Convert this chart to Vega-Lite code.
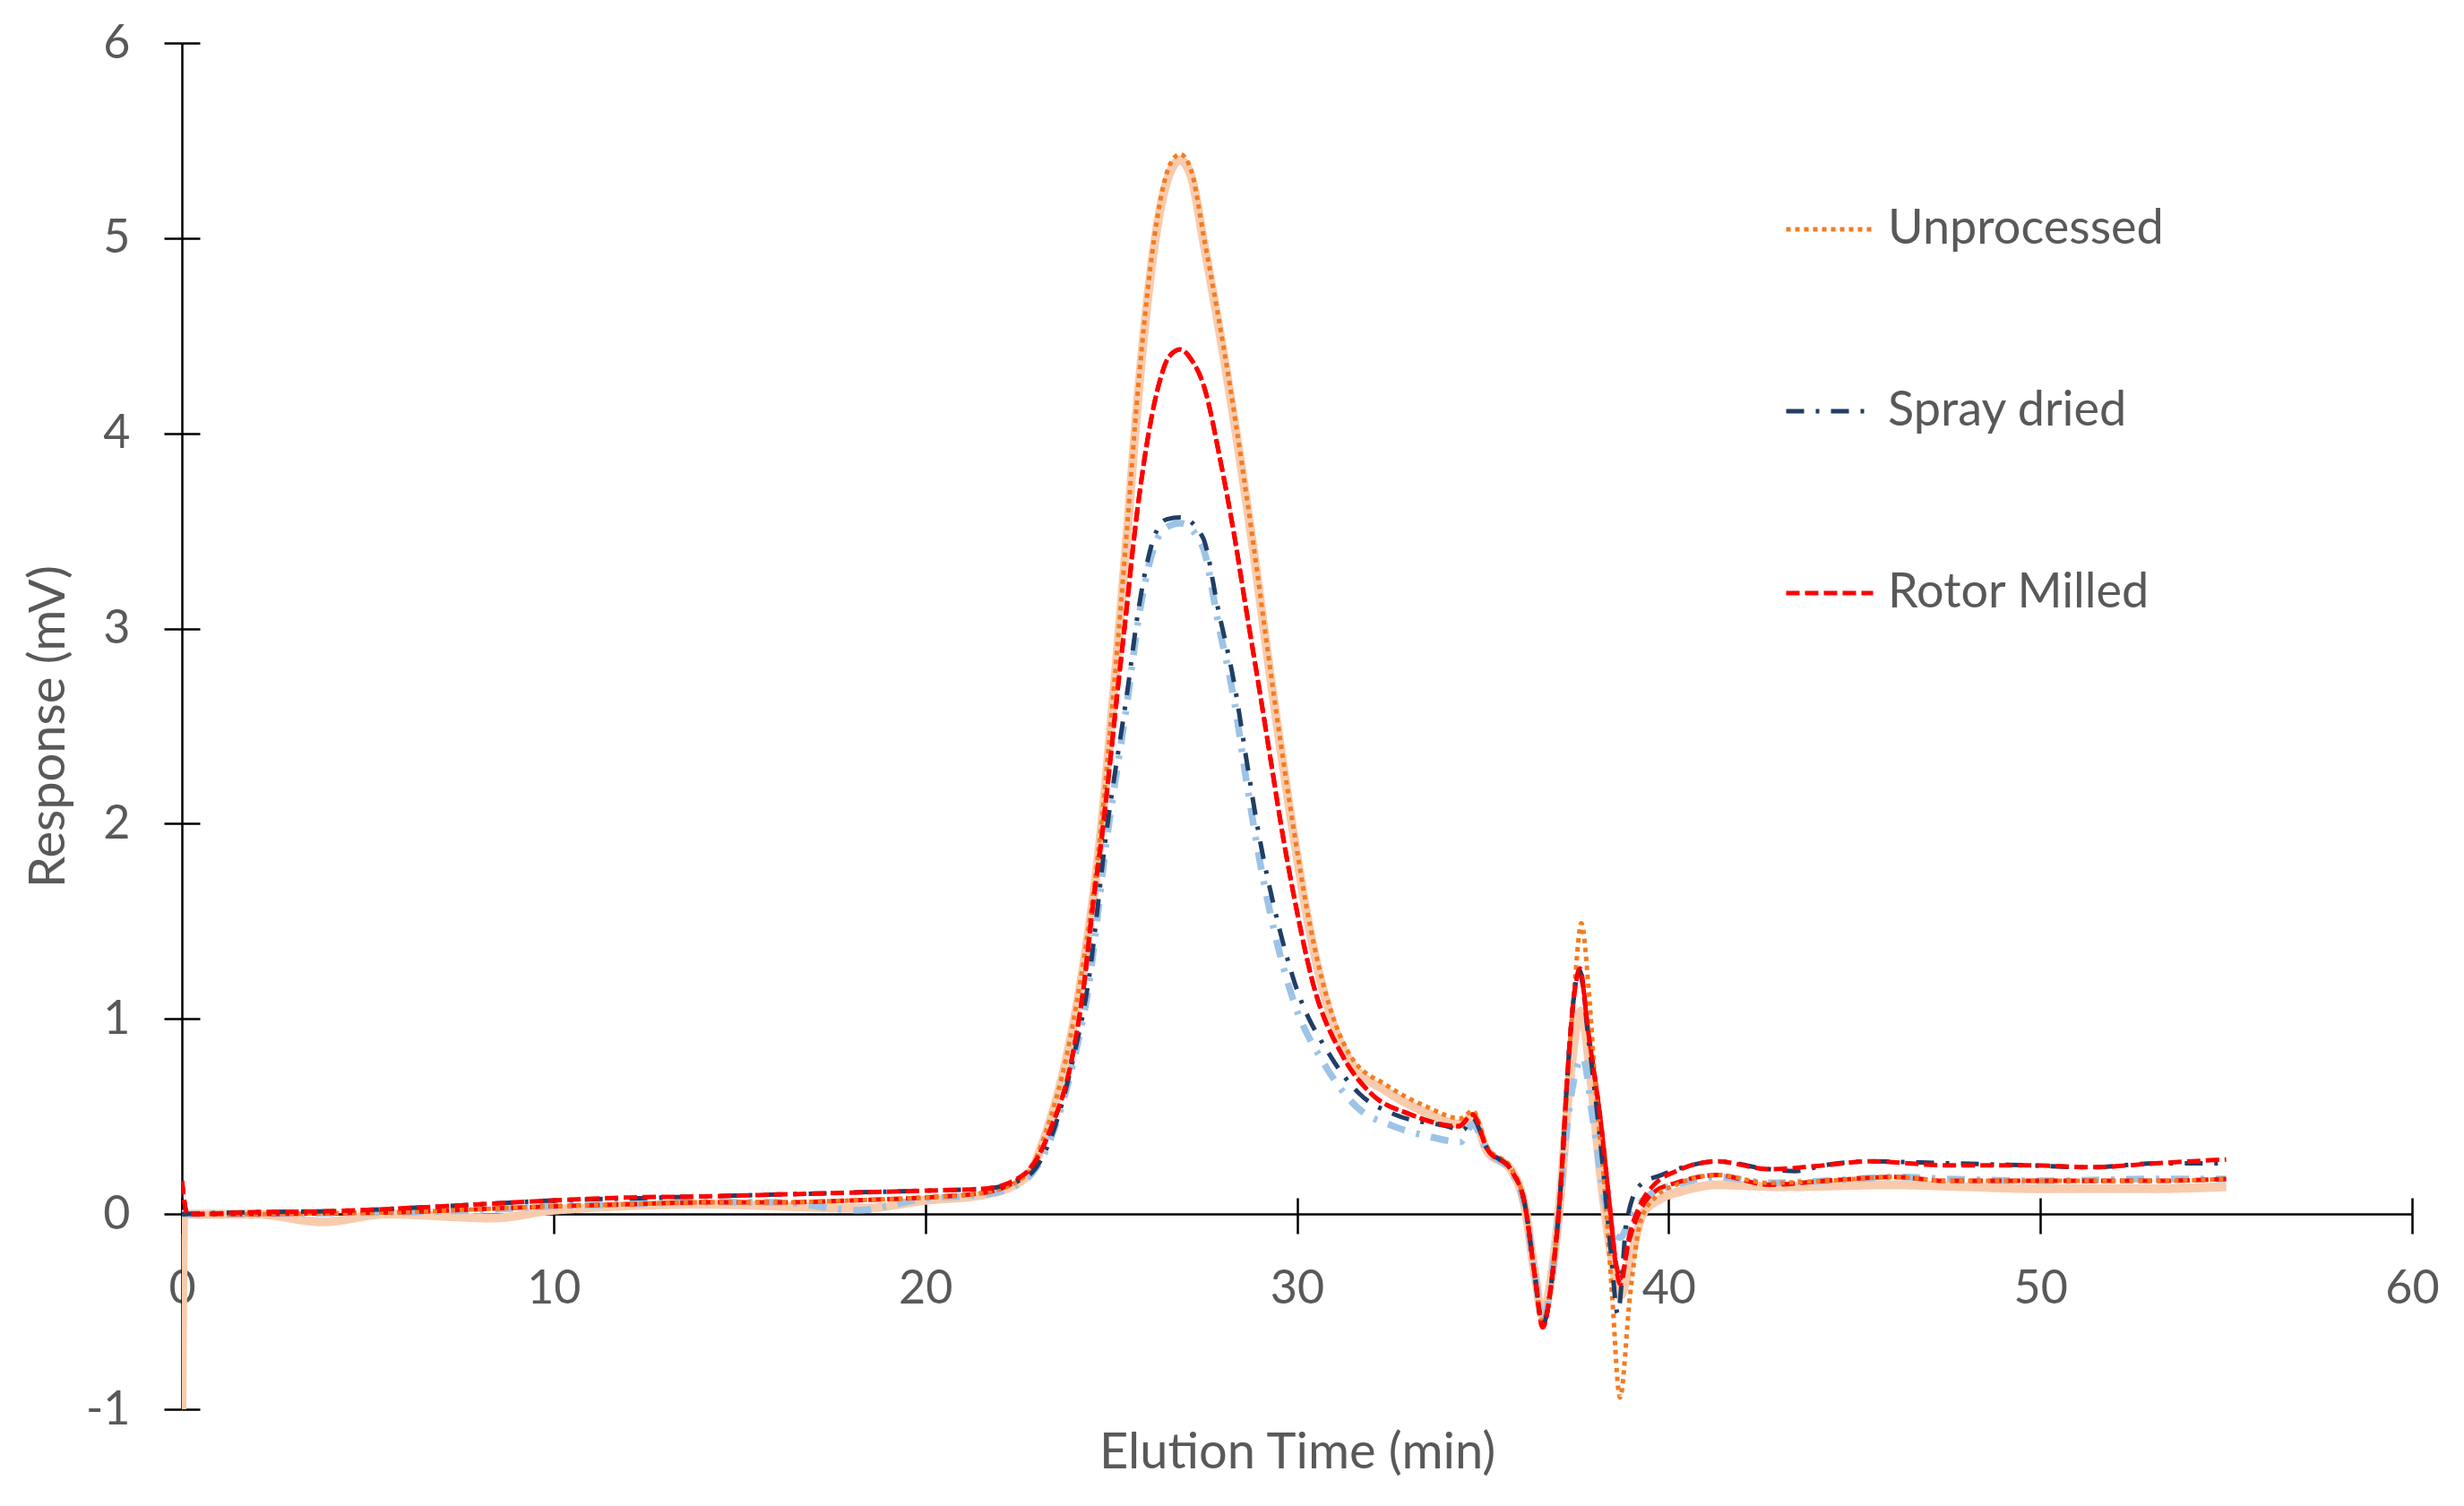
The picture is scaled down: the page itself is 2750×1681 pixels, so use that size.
{
  "$schema": "https://vega.github.io/schema/vega-lite/v6.json",
  "description": "Chromatogram: response vs elution time for three sample treatments",
  "autosize": {"type": "none"},
  "padding": {"left": 203, "top": 48, "right": 58, "bottom": 108},
  "width": 2489,
  "height": 1525,
  "background": "white",
  "config": {
    "view": {"stroke": null},
    "font": "Lato",
    "axis": {
      "grid": false,
      "domainColor": "black",
      "domainWidth": 2.5,
      "tickColor": "black",
      "tickWidth": 2.5,
      "labelFont": "Lato",
      "labelFontSize": 52,
      "labelColor": "#595959",
      "labelFlush": false,
      "titleFont": "Lato",
      "titleFontSize": 56,
      "titleFontWeight": "normal",
      "titleColor": "#595959"
    }
  },
  "datasets": {
    "reps": [
      {"s": "Unprocessed rep", "t": 0, "r": -1},
      {"s": "Unprocessed rep", "t": 0.05, "r": 0},
      {"s": "Unprocessed rep", "t": 2, "r": 0},
      {"s": "Unprocessed rep", "t": 3.8, "r": -0.04},
      {"s": "Unprocessed rep", "t": 5.5, "r": 0},
      {"s": "Unprocessed rep", "t": 8.4, "r": -0.02},
      {"s": "Unprocessed rep", "t": 10, "r": 0.02},
      {"s": "Unprocessed rep", "t": 14, "r": 0.05},
      {"s": "Unprocessed rep", "t": 18.3, "r": 0.03},
      {"s": "Unprocessed rep", "t": 20, "r": 0.07},
      {"s": "Unprocessed rep", "t": 21.6, "r": 0.1},
      {"s": "Unprocessed rep", "t": 22.72, "r": 0.19},
      {"s": "Unprocessed rep", "t": 23.26, "r": 0.42},
      {"s": "Unprocessed rep", "t": 23.79, "r": 0.79},
      {"s": "Unprocessed rep", "t": 24.17, "r": 1.17},
      {"s": "Unprocessed rep", "t": 24.71, "r": 1.93},
      {"s": "Unprocessed rep", "t": 25.08, "r": 2.69},
      {"s": "Unprocessed rep", "t": 25.41, "r": 3.44},
      {"s": "Unprocessed rep", "t": 25.73, "r": 4.2},
      {"s": "Unprocessed rep", "t": 26.16, "r": 4.96},
      {"s": "Unprocessed rep", "t": 26.59, "r": 5.34},
      {"s": "Unprocessed rep", "t": 26.86, "r": 5.4},
      {"s": "Unprocessed rep", "t": 27.15, "r": 5.32},
      {"s": "Unprocessed rep", "t": 27.5, "r": 4.97},
      {"s": "Unprocessed rep", "t": 28.2, "r": 4.2},
      {"s": "Unprocessed rep", "t": 28.8, "r": 3.44},
      {"s": "Unprocessed rep", "t": 29.34, "r": 2.68},
      {"s": "Unprocessed rep", "t": 29.93, "r": 1.92},
      {"s": "Unprocessed rep", "t": 30.26, "r": 1.54},
      {"s": "Unprocessed rep", "t": 30.69, "r": 1.16},
      {"s": "Unprocessed rep", "t": 31.44, "r": 0.78},
      {"s": "Unprocessed rep", "t": 32.41, "r": 0.63},
      {"s": "Unprocessed rep", "t": 33.49, "r": 0.52},
      {"s": "Unprocessed rep", "t": 34.4, "r": 0.46},
      {"s": "Unprocessed rep", "t": 34.73, "r": 0.5},
      {"s": "Unprocessed rep", "t": 35.1, "r": 0.33},
      {"s": "Unprocessed rep", "t": 35.78, "r": 0.22},
      {"s": "Unprocessed rep", "t": 36.13, "r": 0.04},
      {"s": "Unprocessed rep", "t": 36.41, "r": -0.32},
      {"s": "Unprocessed rep", "t": 36.61, "r": -0.52},
      {"s": "Unprocessed rep", "t": 36.86, "r": -0.3},
      {"s": "Unprocessed rep", "t": 37.1, "r": 0.12},
      {"s": "Unprocessed rep", "t": 37.3, "r": 0.6},
      {"s": "Unprocessed rep", "t": 37.65, "r": 1.04},
      {"s": "Unprocessed rep", "t": 37.9, "r": 0.7},
      {"s": "Unprocessed rep", "t": 38.2, "r": 0.15},
      {"s": "Unprocessed rep", "t": 38.45, "r": -0.2},
      {"s": "Unprocessed rep", "t": 38.69, "r": -0.42},
      {"s": "Unprocessed rep", "t": 38.96, "r": -0.25},
      {"s": "Unprocessed rep", "t": 39.3, "r": 0},
      {"s": "Unprocessed rep", "t": 39.8, "r": 0.08},
      {"s": "Unprocessed rep", "t": 40.4, "r": 0.12},
      {"s": "Unprocessed rep", "t": 41.3, "r": 0.15},
      {"s": "Unprocessed rep", "t": 43, "r": 0.14},
      {"s": "Unprocessed rep", "t": 46, "r": 0.15},
      {"s": "Unprocessed rep", "t": 48, "r": 0.14},
      {"s": "Unprocessed rep", "t": 50, "r": 0.13},
      {"s": "Unprocessed rep", "t": 53, "r": 0.13},
      {"s": "Unprocessed rep", "t": 55, "r": 0.14},

      {"s": "Spray dried rep", "t": 0, "r": 0},
      {"s": "Spray dried rep", "t": 2, "r": 0},
      {"s": "Spray dried rep", "t": 4, "r": 0.005},
      {"s": "Spray dried rep", "t": 6, "r": 0.01},
      {"s": "Spray dried rep", "t": 8, "r": 0.02},
      {"s": "Spray dried rep", "t": 10, "r": 0.04},
      {"s": "Spray dried rep", "t": 12, "r": 0.05},
      {"s": "Spray dried rep", "t": 14, "r": 0.06},
      {"s": "Spray dried rep", "t": 16, "r": 0.06},
      {"s": "Spray dried rep", "t": 18.2, "r": 0.02},
      {"s": "Spray dried rep", "t": 20, "r": 0.08},
      {"s": "Spray dried rep", "t": 21.6, "r": 0.1},
      {"s": "Spray dried rep", "t": 22.72, "r": 0.18},
      {"s": "Spray dried rep", "t": 23.4, "r": 0.4},
      {"s": "Spray dried rep", "t": 23.96, "r": 0.76},
      {"s": "Spray dried rep", "t": 24.39, "r": 1.16},
      {"s": "Spray dried rep", "t": 24.87, "r": 1.9},
      {"s": "Spray dried rep", "t": 25.46, "r": 2.66},
      {"s": "Spray dried rep", "t": 25.73, "r": 3.04},
      {"s": "Spray dried rep", "t": 26.16, "r": 3.42},
      {"s": "Spray dried rep", "t": 26.5, "r": 3.52},
      {"s": "Spray dried rep", "t": 26.86, "r": 3.54},
      {"s": "Spray dried rep", "t": 27.46, "r": 3.42},
      {"s": "Spray dried rep", "t": 27.89, "r": 3.02},
      {"s": "Spray dried rep", "t": 28.32, "r": 2.62},
      {"s": "Spray dried rep", "t": 28.64, "r": 2.22},
      {"s": "Spray dried rep", "t": 28.97, "r": 1.84},
      {"s": "Spray dried rep", "t": 29.39, "r": 1.45},
      {"s": "Spray dried rep", "t": 29.93, "r": 1.08},
      {"s": "Spray dried rep", "t": 30.7, "r": 0.78},
      {"s": "Spray dried rep", "t": 31.6, "r": 0.55},
      {"s": "Spray dried rep", "t": 32.6, "r": 0.45},
      {"s": "Spray dried rep", "t": 33.5, "r": 0.4},
      {"s": "Spray dried rep", "t": 34.4, "r": 0.37},
      {"s": "Spray dried rep", "t": 34.73, "r": 0.46},
      {"s": "Spray dried rep", "t": 35.1, "r": 0.33},
      {"s": "Spray dried rep", "t": 35.78, "r": 0.21},
      {"s": "Spray dried rep", "t": 36.13, "r": 0.04},
      {"s": "Spray dried rep", "t": 36.41, "r": -0.32},
      {"s": "Spray dried rep", "t": 36.61, "r": -0.54},
      {"s": "Spray dried rep", "t": 36.86, "r": -0.32},
      {"s": "Spray dried rep", "t": 37.1, "r": 0.12},
      {"s": "Spray dried rep", "t": 37.3, "r": 0.5},
      {"s": "Spray dried rep", "t": 37.69, "r": 0.8},
      {"s": "Spray dried rep", "t": 37.95, "r": 0.5},
      {"s": "Spray dried rep", "t": 38.25, "r": 0.1},
      {"s": "Spray dried rep", "t": 38.5, "r": -0.1},
      {"s": "Spray dried rep", "t": 38.7, "r": -0.12},
      {"s": "Spray dried rep", "t": 39, "r": 0},
      {"s": "Spray dried rep", "t": 39.5, "r": 0.1},
      {"s": "Spray dried rep", "t": 40.2, "r": 0.15},
      {"s": "Spray dried rep", "t": 41.3, "r": 0.19},
      {"s": "Spray dried rep", "t": 42.7, "r": 0.16},
      {"s": "Spray dried rep", "t": 44.2, "r": 0.17},
      {"s": "Spray dried rep", "t": 46.1, "r": 0.19},
      {"s": "Spray dried rep", "t": 47.5, "r": 0.18},
      {"s": "Spray dried rep", "t": 50.2, "r": 0.17},
      {"s": "Spray dried rep", "t": 53.1, "r": 0.18},
      {"s": "Spray dried rep", "t": 55, "r": 0.18},

      {"s": "Rotor Milled rep", "t": 0, "r": 0.17},
      {"s": "Rotor Milled rep", "t": 0.15, "r": 0},
      {"s": "Rotor Milled rep", "t": 2, "r": 0},
      {"s": "Rotor Milled rep", "t": 4, "r": 0.005},
      {"s": "Rotor Milled rep", "t": 6, "r": 0.01},
      {"s": "Rotor Milled rep", "t": 8, "r": 0.025},
      {"s": "Rotor Milled rep", "t": 10, "r": 0.04},
      {"s": "Rotor Milled rep", "t": 12, "r": 0.05},
      {"s": "Rotor Milled rep", "t": 14, "r": 0.06},
      {"s": "Rotor Milled rep", "t": 16, "r": 0.06},
      {"s": "Rotor Milled rep", "t": 18, "r": 0.07},
      {"s": "Rotor Milled rep", "t": 20, "r": 0.085},
      {"s": "Rotor Milled rep", "t": 21.6, "r": 0.11},
      {"s": "Rotor Milled rep", "t": 22.7, "r": 0.21},
      {"s": "Rotor Milled rep", "t": 23.36, "r": 0.43},
      {"s": "Rotor Milled rep", "t": 23.96, "r": 0.81},
      {"s": "Rotor Milled rep", "t": 24.28, "r": 1.19},
      {"s": "Rotor Milled rep", "t": 24.5, "r": 1.57},
      {"s": "Rotor Milled rep", "t": 24.76, "r": 1.95},
      {"s": "Rotor Milled rep", "t": 24.98, "r": 2.33},
      {"s": "Rotor Milled rep", "t": 25.19, "r": 2.71},
      {"s": "Rotor Milled rep", "t": 25.41, "r": 3.09},
      {"s": "Rotor Milled rep", "t": 25.62, "r": 3.47},
      {"s": "Rotor Milled rep", "t": 25.89, "r": 3.86},
      {"s": "Rotor Milled rep", "t": 26.27, "r": 4.24},
      {"s": "Rotor Milled rep", "t": 26.55, "r": 4.39},
      {"s": "Rotor Milled rep", "t": 26.86, "r": 4.43},
      {"s": "Rotor Milled rep", "t": 27.15, "r": 4.38},
      {"s": "Rotor Milled rep", "t": 27.5, "r": 4.24},
      {"s": "Rotor Milled rep", "t": 27.94, "r": 3.86},
      {"s": "Rotor Milled rep", "t": 28.32, "r": 3.47},
      {"s": "Rotor Milled rep", "t": 28.64, "r": 3.09},
      {"s": "Rotor Milled rep", "t": 28.97, "r": 2.71},
      {"s": "Rotor Milled rep", "t": 29.29, "r": 2.33},
      {"s": "Rotor Milled rep", "t": 29.61, "r": 1.95},
      {"s": "Rotor Milled rep", "t": 29.98, "r": 1.57},
      {"s": "Rotor Milled rep", "t": 30.42, "r": 1.19},
      {"s": "Rotor Milled rep", "t": 31.23, "r": 0.81},
      {"s": "Rotor Milled rep", "t": 31.98, "r": 0.62},
      {"s": "Rotor Milled rep", "t": 33.06, "r": 0.51},
      {"s": "Rotor Milled rep", "t": 34.35, "r": 0.45},
      {"s": "Rotor Milled rep", "t": 34.73, "r": 0.51},
      {"s": "Rotor Milled rep", "t": 35.1, "r": 0.34},
      {"s": "Rotor Milled rep", "t": 35.78, "r": 0.22},
      {"s": "Rotor Milled rep", "t": 36.13, "r": 0.05},
      {"s": "Rotor Milled rep", "t": 36.41, "r": -0.33},
      {"s": "Rotor Milled rep", "t": 36.61, "r": -0.58},
      {"s": "Rotor Milled rep", "t": 36.86, "r": -0.33},
      {"s": "Rotor Milled rep", "t": 37.1, "r": 0.15},
      {"s": "Rotor Milled rep", "t": 37.28, "r": 0.72},
      {"s": "Rotor Milled rep", "t": 37.42, "r": 1.06},
      {"s": "Rotor Milled rep", "t": 37.61, "r": 1.24},
      {"s": "Rotor Milled rep", "t": 37.84, "r": 0.93},
      {"s": "Rotor Milled rep", "t": 38.2, "r": 0.43},
      {"s": "Rotor Milled rep", "t": 38.41, "r": 0.05},
      {"s": "Rotor Milled rep", "t": 38.6, "r": -0.27},
      {"s": "Rotor Milled rep", "t": 38.7, "r": -0.33},
      {"s": "Rotor Milled rep", "t": 38.93, "r": -0.14},
      {"s": "Rotor Milled rep", "t": 39.24, "r": 0.02},
      {"s": "Rotor Milled rep", "t": 39.66, "r": 0.12},
      {"s": "Rotor Milled rep", "t": 40.2, "r": 0.16},
      {"s": "Rotor Milled rep", "t": 41.3, "r": 0.2},
      {"s": "Rotor Milled rep", "t": 42.7, "r": 0.15},
      {"s": "Rotor Milled rep", "t": 44.2, "r": 0.17},
      {"s": "Rotor Milled rep", "t": 46.1, "r": 0.19},
      {"s": "Rotor Milled rep", "t": 47.5, "r": 0.17},
      {"s": "Rotor Milled rep", "t": 50.2, "r": 0.17},
      {"s": "Rotor Milled rep", "t": 53.1, "r": 0.17},
      {"s": "Rotor Milled rep", "t": 55, "r": 0.18}
    ],
    "main": [
      {"s": "Unprocessed", "t": 0, "r": 0},
      {"s": "Unprocessed", "t": 2, "r": 0},
      {"s": "Unprocessed", "t": 4, "r": 0.005},
      {"s": "Unprocessed", "t": 6, "r": 0.01},
      {"s": "Unprocessed", "t": 8, "r": 0.025},
      {"s": "Unprocessed", "t": 10, "r": 0.04},
      {"s": "Unprocessed", "t": 12, "r": 0.05},
      {"s": "Unprocessed", "t": 14, "r": 0.06},
      {"s": "Unprocessed", "t": 16, "r": 0.06},
      {"s": "Unprocessed", "t": 18, "r": 0.07},
      {"s": "Unprocessed", "t": 20, "r": 0.085},
      {"s": "Unprocessed", "t": 21.6, "r": 0.11},
      {"s": "Unprocessed", "t": 22.72, "r": 0.2},
      {"s": "Unprocessed", "t": 23.26, "r": 0.43},
      {"s": "Unprocessed", "t": 23.79, "r": 0.8},
      {"s": "Unprocessed", "t": 24.17, "r": 1.19},
      {"s": "Unprocessed", "t": 24.71, "r": 1.95},
      {"s": "Unprocessed", "t": 25.08, "r": 2.71},
      {"s": "Unprocessed", "t": 25.41, "r": 3.47},
      {"s": "Unprocessed", "t": 25.73, "r": 4.24},
      {"s": "Unprocessed", "t": 26.16, "r": 5.0},
      {"s": "Unprocessed", "t": 26.59, "r": 5.38},
      {"s": "Unprocessed", "t": 26.86, "r": 5.43},
      {"s": "Unprocessed", "t": 27.15, "r": 5.35},
      {"s": "Unprocessed", "t": 27.5, "r": 5.0},
      {"s": "Unprocessed", "t": 28.2, "r": 4.24},
      {"s": "Unprocessed", "t": 28.8, "r": 3.47},
      {"s": "Unprocessed", "t": 29.34, "r": 2.71},
      {"s": "Unprocessed", "t": 29.93, "r": 1.95},
      {"s": "Unprocessed", "t": 30.26, "r": 1.57},
      {"s": "Unprocessed", "t": 30.69, "r": 1.19},
      {"s": "Unprocessed", "t": 31.44, "r": 0.81},
      {"s": "Unprocessed", "t": 32.41, "r": 0.66},
      {"s": "Unprocessed", "t": 33.49, "r": 0.55},
      {"s": "Unprocessed", "t": 34.4, "r": 0.49},
      {"s": "Unprocessed", "t": 34.73, "r": 0.53},
      {"s": "Unprocessed", "t": 35.1, "r": 0.35},
      {"s": "Unprocessed", "t": 35.78, "r": 0.23},
      {"s": "Unprocessed", "t": 36.13, "r": 0.05},
      {"s": "Unprocessed", "t": 36.41, "r": -0.33},
      {"s": "Unprocessed", "t": 36.61, "r": -0.55},
      {"s": "Unprocessed", "t": 36.86, "r": -0.33},
      {"s": "Unprocessed", "t": 37.1, "r": 0.15},
      {"s": "Unprocessed", "t": 37.3, "r": 0.75},
      {"s": "Unprocessed", "t": 37.48, "r": 1.2},
      {"s": "Unprocessed", "t": 37.65, "r": 1.49},
      {"s": "Unprocessed", "t": 37.85, "r": 1.15},
      {"s": "Unprocessed", "t": 38.05, "r": 0.6},
      {"s": "Unprocessed", "t": 38.27, "r": 0.15},
      {"s": "Unprocessed", "t": 38.48, "r": -0.42},
      {"s": "Unprocessed", "t": 38.69, "r": -0.94},
      {"s": "Unprocessed", "t": 38.96, "r": -0.42},
      {"s": "Unprocessed", "t": 39.24, "r": -0.04},
      {"s": "Unprocessed", "t": 39.66, "r": 0.09},
      {"s": "Unprocessed", "t": 40.2, "r": 0.15},
      {"s": "Unprocessed", "t": 41.3, "r": 0.2},
      {"s": "Unprocessed", "t": 42.7, "r": 0.16},
      {"s": "Unprocessed", "t": 44.2, "r": 0.17},
      {"s": "Unprocessed", "t": 46.1, "r": 0.19},
      {"s": "Unprocessed", "t": 47.5, "r": 0.17},
      {"s": "Unprocessed", "t": 50.2, "r": 0.17},
      {"s": "Unprocessed", "t": 53.1, "r": 0.17},
      {"s": "Unprocessed", "t": 55, "r": 0.18},

      {"s": "Spray dried", "t": 0, "r": 0},
      {"s": "Spray dried", "t": 2, "r": 0.01},
      {"s": "Spray dried", "t": 4, "r": 0.015},
      {"s": "Spray dried", "t": 6, "r": 0.03},
      {"s": "Spray dried", "t": 8, "r": 0.05},
      {"s": "Spray dried", "t": 10, "r": 0.07},
      {"s": "Spray dried", "t": 12, "r": 0.08},
      {"s": "Spray dried", "t": 14, "r": 0.09},
      {"s": "Spray dried", "t": 16, "r": 0.1},
      {"s": "Spray dried", "t": 18, "r": 0.11},
      {"s": "Spray dried", "t": 20, "r": 0.12},
      {"s": "Spray dried", "t": 21.6, "r": 0.13},
      {"s": "Spray dried", "t": 22.72, "r": 0.19},
      {"s": "Spray dried", "t": 23.4, "r": 0.4},
      {"s": "Spray dried", "t": 23.96, "r": 0.78},
      {"s": "Spray dried", "t": 24.39, "r": 1.19},
      {"s": "Spray dried", "t": 24.87, "r": 1.95},
      {"s": "Spray dried", "t": 25.46, "r": 2.71},
      {"s": "Spray dried", "t": 25.73, "r": 3.09},
      {"s": "Spray dried", "t": 26.16, "r": 3.47},
      {"s": "Spray dried", "t": 26.5, "r": 3.56},
      {"s": "Spray dried", "t": 26.86, "r": 3.57},
      {"s": "Spray dried", "t": 27.46, "r": 3.47},
      {"s": "Spray dried", "t": 27.89, "r": 3.09},
      {"s": "Spray dried", "t": 28.32, "r": 2.71},
      {"s": "Spray dried", "t": 28.64, "r": 2.33},
      {"s": "Spray dried", "t": 28.97, "r": 1.95},
      {"s": "Spray dried", "t": 29.39, "r": 1.57},
      {"s": "Spray dried", "t": 29.93, "r": 1.19},
      {"s": "Spray dried", "t": 30.9, "r": 0.81},
      {"s": "Spray dried", "t": 31.66, "r": 0.62},
      {"s": "Spray dried", "t": 32.63, "r": 0.51},
      {"s": "Spray dried", "t": 34.03, "r": 0.45},
      {"s": "Spray dried", "t": 34.46, "r": 0.43},
      {"s": "Spray dried", "t": 34.73, "r": 0.49},
      {"s": "Spray dried", "t": 35.1, "r": 0.34},
      {"s": "Spray dried", "t": 35.78, "r": 0.22},
      {"s": "Spray dried", "t": 36.13, "r": 0.05},
      {"s": "Spray dried", "t": 36.41, "r": -0.33},
      {"s": "Spray dried", "t": 36.61, "r": -0.57},
      {"s": "Spray dried", "t": 36.86, "r": -0.33},
      {"s": "Spray dried", "t": 37.1, "r": 0.15},
      {"s": "Spray dried", "t": 37.28, "r": 0.72},
      {"s": "Spray dried", "t": 37.42, "r": 1.06},
      {"s": "Spray dried", "t": 37.6, "r": 1.25},
      {"s": "Spray dried", "t": 37.84, "r": 0.9},
      {"s": "Spray dried", "t": 38.2, "r": 0.3},
      {"s": "Spray dried", "t": 38.45, "r": -0.2},
      {"s": "Spray dried", "t": 38.63, "r": -0.51},
      {"s": "Spray dried", "t": 38.87, "r": -0.04},
      {"s": "Spray dried", "t": 39.24, "r": 0.15},
      {"s": "Spray dried", "t": 39.8, "r": 0.2},
      {"s": "Spray dried", "t": 40.6, "r": 0.25},
      {"s": "Spray dried", "t": 41.3, "r": 0.27},
      {"s": "Spray dried", "t": 42.7, "r": 0.23},
      {"s": "Spray dried", "t": 43.4, "r": 0.22},
      {"s": "Spray dried", "t": 44.2, "r": 0.25},
      {"s": "Spray dried", "t": 45.4, "r": 0.27},
      {"s": "Spray dried", "t": 47.5, "r": 0.26},
      {"s": "Spray dried", "t": 49.6, "r": 0.25},
      {"s": "Spray dried", "t": 51.4, "r": 0.24},
      {"s": "Spray dried", "t": 53.1, "r": 0.26},
      {"s": "Spray dried", "t": 55, "r": 0.26},

      {"s": "Rotor Milled", "t": 0, "r": 0.17},
      {"s": "Rotor Milled", "t": 0.15, "r": 0},
      {"s": "Rotor Milled", "t": 2, "r": 0.01},
      {"s": "Rotor Milled", "t": 4, "r": 0.015},
      {"s": "Rotor Milled", "t": 6, "r": 0.03},
      {"s": "Rotor Milled", "t": 8, "r": 0.05},
      {"s": "Rotor Milled", "t": 10, "r": 0.07},
      {"s": "Rotor Milled", "t": 12, "r": 0.085},
      {"s": "Rotor Milled", "t": 14, "r": 0.09},
      {"s": "Rotor Milled", "t": 16, "r": 0.1},
      {"s": "Rotor Milled", "t": 18, "r": 0.11},
      {"s": "Rotor Milled", "t": 20, "r": 0.12},
      {"s": "Rotor Milled", "t": 21.6, "r": 0.13},
      {"s": "Rotor Milled", "t": 22.7, "r": 0.21},
      {"s": "Rotor Milled", "t": 23.36, "r": 0.43},
      {"s": "Rotor Milled", "t": 23.96, "r": 0.81},
      {"s": "Rotor Milled", "t": 24.28, "r": 1.19},
      {"s": "Rotor Milled", "t": 24.5, "r": 1.57},
      {"s": "Rotor Milled", "t": 24.76, "r": 1.95},
      {"s": "Rotor Milled", "t": 24.98, "r": 2.33},
      {"s": "Rotor Milled", "t": 25.19, "r": 2.71},
      {"s": "Rotor Milled", "t": 25.41, "r": 3.09},
      {"s": "Rotor Milled", "t": 25.62, "r": 3.47},
      {"s": "Rotor Milled", "t": 25.89, "r": 3.86},
      {"s": "Rotor Milled", "t": 26.27, "r": 4.24},
      {"s": "Rotor Milled", "t": 26.55, "r": 4.39},
      {"s": "Rotor Milled", "t": 26.86, "r": 4.43},
      {"s": "Rotor Milled", "t": 27.15, "r": 4.38},
      {"s": "Rotor Milled", "t": 27.5, "r": 4.24},
      {"s": "Rotor Milled", "t": 27.94, "r": 3.86},
      {"s": "Rotor Milled", "t": 28.32, "r": 3.47},
      {"s": "Rotor Milled", "t": 28.64, "r": 3.09},
      {"s": "Rotor Milled", "t": 28.97, "r": 2.71},
      {"s": "Rotor Milled", "t": 29.29, "r": 2.33},
      {"s": "Rotor Milled", "t": 29.61, "r": 1.95},
      {"s": "Rotor Milled", "t": 29.98, "r": 1.57},
      {"s": "Rotor Milled", "t": 30.42, "r": 1.19},
      {"s": "Rotor Milled", "t": 31.23, "r": 0.81},
      {"s": "Rotor Milled", "t": 31.98, "r": 0.62},
      {"s": "Rotor Milled", "t": 33.06, "r": 0.51},
      {"s": "Rotor Milled", "t": 34.35, "r": 0.45},
      {"s": "Rotor Milled", "t": 34.73, "r": 0.51},
      {"s": "Rotor Milled", "t": 35.1, "r": 0.34},
      {"s": "Rotor Milled", "t": 35.78, "r": 0.22},
      {"s": "Rotor Milled", "t": 36.13, "r": 0.05},
      {"s": "Rotor Milled", "t": 36.41, "r": -0.33},
      {"s": "Rotor Milled", "t": 36.61, "r": -0.58},
      {"s": "Rotor Milled", "t": 36.86, "r": -0.33},
      {"s": "Rotor Milled", "t": 37.1, "r": 0.15},
      {"s": "Rotor Milled", "t": 37.28, "r": 0.72},
      {"s": "Rotor Milled", "t": 37.42, "r": 1.06},
      {"s": "Rotor Milled", "t": 37.61, "r": 1.26},
      {"s": "Rotor Milled", "t": 37.84, "r": 0.93},
      {"s": "Rotor Milled", "t": 38.2, "r": 0.43},
      {"s": "Rotor Milled", "t": 38.41, "r": 0.05},
      {"s": "Rotor Milled", "t": 38.6, "r": -0.29},
      {"s": "Rotor Milled", "t": 38.7, "r": -0.36},
      {"s": "Rotor Milled", "t": 38.93, "r": -0.12},
      {"s": "Rotor Milled", "t": 39.24, "r": 0.05},
      {"s": "Rotor Milled", "t": 39.66, "r": 0.16},
      {"s": "Rotor Milled", "t": 40.2, "r": 0.22},
      {"s": "Rotor Milled", "t": 41.3, "r": 0.27},
      {"s": "Rotor Milled", "t": 42.7, "r": 0.23},
      {"s": "Rotor Milled", "t": 44.2, "r": 0.25},
      {"s": "Rotor Milled", "t": 45.4, "r": 0.27},
      {"s": "Rotor Milled", "t": 47.5, "r": 0.25},
      {"s": "Rotor Milled", "t": 49.6, "r": 0.25},
      {"s": "Rotor Milled", "t": 51.4, "r": 0.24},
      {"s": "Rotor Milled", "t": 53.1, "r": 0.26},
      {"s": "Rotor Milled", "t": 55, "r": 0.28}
    ]
  },
  "layer": [
    {
      "data": {"name": "reps"},
      "mark": {"type": "line", "interpolate": "monotone", "clip": true},
      "encoding": {
        "x": {
          "field": "t",
          "type": "quantitative",
          "scale": {"domain": [0, 60], "nice": false, "zero": false},
          "axis": {"orient": "bottom", "offset": -218, "values": [0, 10, 20, 30, 40, 50, 60], "tickSize": -18, "labels": false, "domain": false, "title": null}
        },
        "y": {
          "field": "r",
          "type": "quantitative",
          "scale": {"domain": [-1, 6], "nice": false, "zero": false},
          "axis": {"orient": "left", "values": [-1, 0, 1, 2, 3, 4, 5, 6], "tickSize": -20, "labels": false, "domain": false, "title": null}
        },
        "color": {
          "field": "s",
          "type": "nominal",
          "legend": null,
          "scale": {"domain": ["Unprocessed rep", "Spray dried rep", "Rotor Milled rep"], "range": ["#f8cbad", "#9dc3e6", "#ff0000"]}
        },
        "strokeDash": {
          "field": "s",
          "type": "nominal",
          "legend": null,
          "scale": {"domain": ["Unprocessed rep", "Spray dried rep", "Rotor Milled rep"], "range": [[1, 0], [20, 13, 4, 13], [15, 6]]}
        },
        "strokeWidth": {
          "field": "s",
          "type": "nominal",
          "legend": null,
          "scale": {"domain": ["Unprocessed rep", "Spray dried rep", "Rotor Milled rep"], "range": [10, 5, 7]}
        }
      }
    },
    {
      "data": {"name": "main"},
      "mark": {"type": "line", "interpolate": "monotone", "clip": true},
      "encoding": {
        "x": {
          "field": "t",
          "type": "quantitative",
          "scale": {"domain": [0, 60], "nice": false, "zero": false},
          "axis": {
            "orient": "bottom",
            "offset": -218,
            "values": [0, 10, 20, 30, 40, 50, 60],
            "tickSize": 22,
            "labelPadding": 77,
            "labelBaseline": "alphabetic",
            "title": "Elution Time (min)",
            "titleBaseline": "alphabetic",
            "titleY": 283
          }
        },
        "y": {
          "field": "r",
          "type": "quantitative",
          "scale": {"domain": [-1, 6], "nice": false, "zero": false},
          "axis": {
            "orient": "left",
            "values": [-1, 0, 1, 2, 3, 4, 5, 6],
            "tickSize": 20,
            "labelPadding": 38,
            "labelExpr": "replace(datum.label, '−', '-')",
            "title": "Response (mV)",
            "titleBaseline": "alphabetic",
            "titleX": -132
          }
        },
        "color": {
          "field": "s",
          "type": "nominal",
          "title": null,
          "scale": {"domain": ["Unprocessed", "Spray dried", "Rotor Milled"], "range": ["#f47b20", "#1f3f66", "#ff0000"]},
          "legend": {
            "orient": "none",
            "legendX": 1788,
            "legendY": 157,
            "symbolType": "stroke",
            "symbolSize": 9409,
            "symbolStrokeWidth": 5,
            "labelFont": "Lato",
            "labelFontSize": 54,
            "labelColor": "#595959",
            "labelLimit": 0,
            "labelOffset": 14,
            "rowPadding": 125,
            "padding": 0
          }
        },
        "strokeDash": {
          "field": "s",
          "type": "nominal",
          "title": null,
          "scale": {"domain": ["Unprocessed", "Spray dried", "Rotor Milled"], "range": [[5, 5], [20, 13, 4, 13], [15, 6]]}
        },
        "strokeWidth": {
          "field": "s",
          "type": "nominal",
          "legend": null,
          "scale": {"domain": ["Unprocessed", "Spray dried", "Rotor Milled"], "range": [5, 5, 7]}
        }
      }
    }
  ],
  "resolve": {
    "scale": {"color": "independent", "strokeDash": "independent", "strokeWidth": "independent"},
    "axis": {"x": "independent", "y": "independent"}
  }
}
